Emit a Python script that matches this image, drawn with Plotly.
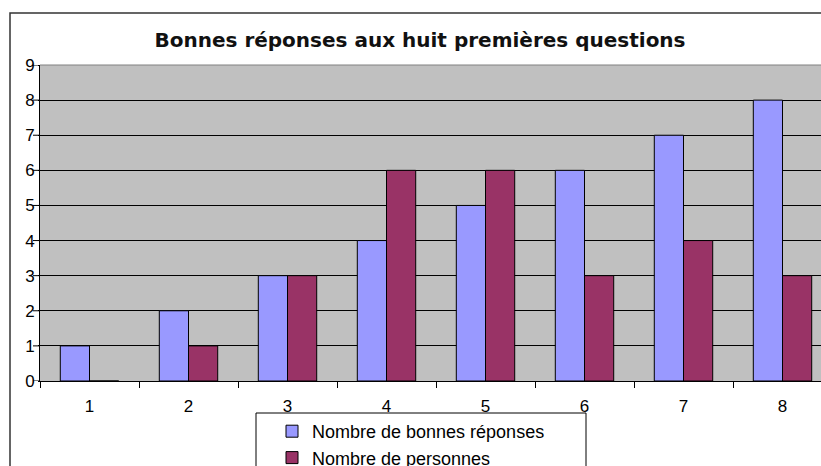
import plotly.graph_objects as go

# Données
questions = ["1", "2", "3", "4", "5", "6", "7", "8"]
bonnes_reponses = [1, 2, 3, 4, 5, 6, 7, 8]
nb_personnes = [0, 1, 3, 6, 6, 3, 4, 3]
y_ticks = list(range(0, 10))

COLOR_BLUE = "#9999FF"
COLOR_MAROON = "#993366"
COLOR_PLOT_BG = "#C0C0C0"
FONT = "Liberation Sans, Arial, sans-serif"
TITLE_FONT = "DejaVu Sans, Verdana, sans-serif"

# Page body margin is removed in post_script, so figure == page.
W, H = 821, 466
PLOT_LEFT, PLOT_TOP, PLOT_BOTTOM = 40, 65, 381   # page pixels
L, T, B = PLOT_LEFT, PLOT_TOP, H - PLOT_BOTTOM
plot_w = W - L
plot_h = H - T - B
cat_w = 99.0                   # px per category
Y_TICKLEN = 7


def px_x(px):
    """page x pixel -> paper fraction"""
    return (px - PLOT_LEFT) / plot_w


def px_y(py):
    """page y pixel -> paper fraction"""
    return (PLOT_BOTTOM - py) / plot_h


fig = go.Figure()
fig.add_trace(go.Bar(
    x=questions, y=bonnes_reponses, name="Nombre de bonnes réponses",
    marker=dict(color=COLOR_BLUE, line=dict(color="black", width=1)),
    legendgroup="a",
))
fig.add_trace(go.Bar(
    x=questions, y=nb_personnes, name="Nombre de personnes",
    marker=dict(color=COLOR_MAROON, line=dict(color="black", width=1)),
    legendgroup="b",
))

shapes = [
    # cadre extérieur du graphique
    dict(type="rect", xref="paper", yref="paper",
         x0=px_x(10), x1=px_x(W + 20), y0=px_y(H + 20), y1=px_y(13),
         line=dict(color="#333333", width=1.5), fillcolor="rgba(0,0,0,0)",
         layer="below"),
    # bordure supérieure grise de la zone de tracé
    dict(type="line", xref="paper", yref="paper",
         x0=0, x1=1, y0=1, y1=1,
         line=dict(color="#808080", width=1)),
    # cadre de la légende
    dict(type="rect", xref="paper", yref="paper",
         x0=px_x(256), x1=px_x(586), y0=px_y(H + 20), y1=px_y(413),
         line=dict(color="black", width=1), fillcolor="rgba(0,0,0,0)"),
]
# graduations de l'axe Y (Excel style, outside)
for v in y_ticks:
    shapes.append(dict(type="line", xref="paper", yref="y",
                       x0=px_x(PLOT_LEFT - Y_TICKLEN), x1=0, y0=v, y1=v,
                       line=dict(color="black", width=1)))

fig.update_layout(
    width=W, height=H,
    margin=dict(l=L, r=0, t=T, b=B, autoexpand=False),
    paper_bgcolor="white",
    plot_bgcolor=COLOR_PLOT_BG,
    font=dict(family=FONT, size=17, color="black"),
    barmode="group",
    bargap=0.41,
    bargroupgap=0,
    title=dict(
        text="<b>Bonnes réponses aux huit premières questions</b>",
        x=px_x(420), xref="paper", xanchor="center",
        y=1 - 40 / H, yanchor="middle",
        font=dict(size=20, family=TITLE_FONT, color="#111111"),
    ),
    xaxis=dict(
        type="category",
        range=[-0.5, -0.5 + plot_w / cat_w],
        tickson="boundaries",
        ticks="outside", ticklen=6, tickcolor="black", tickwidth=1,
        showline=True, linecolor="black", linewidth=1,
        showgrid=False, zeroline=False,
        ticklabelstandoff=10,
        tickfont=dict(size=17),
    ),
    yaxis=dict(
        range=[0, 9],
        tickvals=y_ticks,
        ticks="outside", ticklen=1, tickcolor="black", tickwidth=1,
        showline=True, linecolor="black", linewidth=1,
        showgrid=True, gridcolor="black", gridwidth=1,
        zeroline=False,
        ticksuffix="\u00a0",
        tickfont=dict(size=17),
    ),
    showlegend=True,
    legend=dict(
        x=px_x(272), y=px_y(413), xanchor="left", yanchor="top",
        bgcolor="rgba(0,0,0,0)", borderwidth=0,
        font=dict(size=18, family=FONT),
        tracegroupgap=0,
        itemwidth=30,
    ),
    shapes=shapes,
)

fig.write_html(
    "out.html",
    config={"displayModeBar": False},
    post_script="document.body.style.margin='0';document.body.style.overflow='hidden';",
)
